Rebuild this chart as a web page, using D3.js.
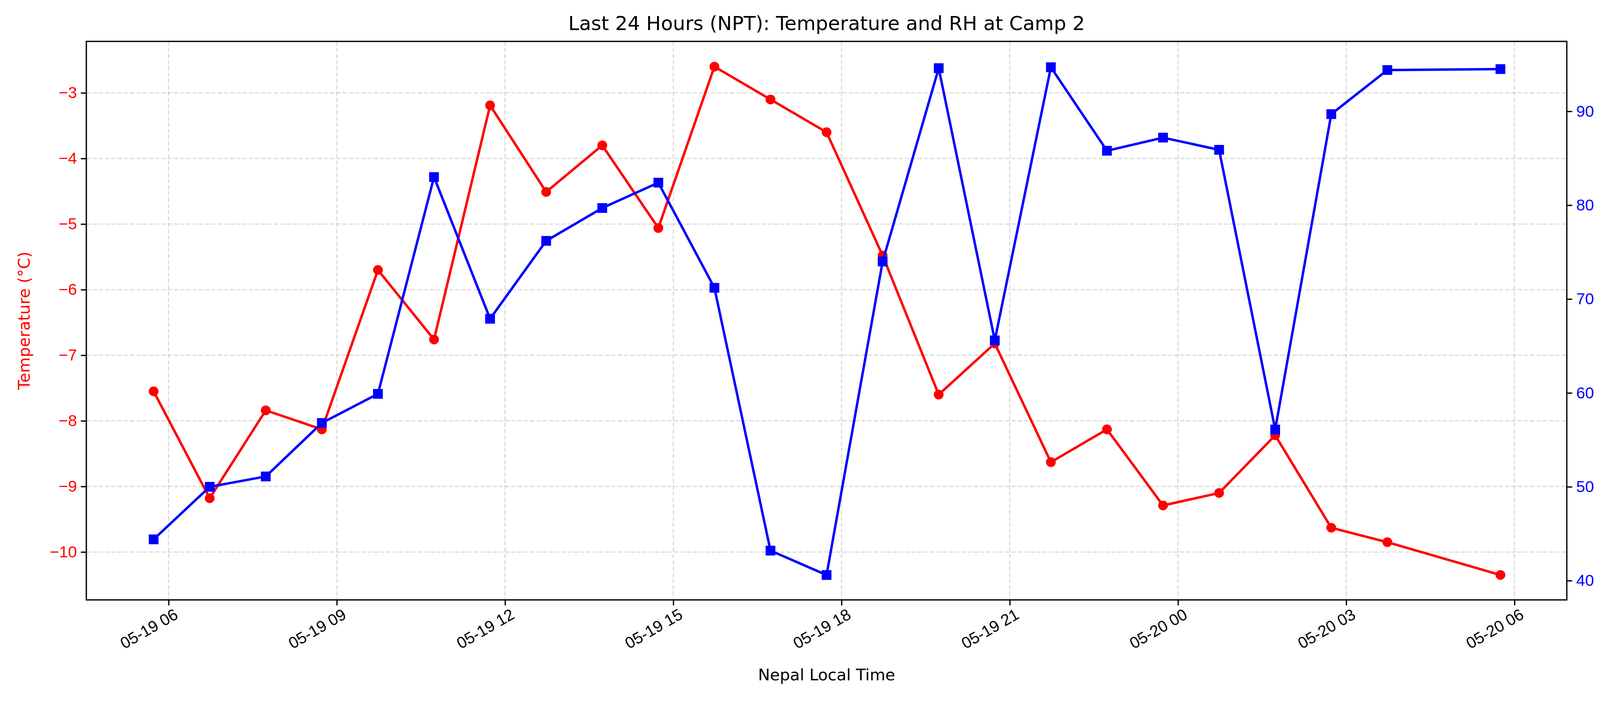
<!DOCTYPE html>
<html><head><meta charset="utf-8">
<script src="https://cdn.jsdelivr.net/npm/d3@7"></script>
<style>html,body{margin:0;padding:0;background:#fff;overflow:hidden}svg{display:block;font-family:"DejaVu Sans",sans-serif}</style>
</head><body>
<script>
const times = ["2024-05-19T05:44","2024-05-19T06:44","2024-05-19T07:44","2024-05-19T08:44","2024-05-19T09:44","2024-05-19T10:44","2024-05-19T11:44","2024-05-19T12:44","2024-05-19T13:44","2024-05-19T14:44","2024-05-19T15:44","2024-05-19T16:44","2024-05-19T17:44","2024-05-19T18:44","2024-05-19T19:44","2024-05-19T20:44","2024-05-19T21:44","2024-05-19T22:44","2024-05-19T23:44","2024-05-20T00:44","2024-05-20T01:44","2024-05-20T02:44","2024-05-20T03:44","2024-05-20T05:45"];
const temperature = [-7.55,-9.18,-7.84,-8.13,-5.70,-6.76,-3.19,-4.51,-3.80,-5.06,-2.60,-3.10,-3.60,-5.48,-7.60,-6.82,-8.63,-8.13,-9.29,-9.10,-8.22,-9.63,-9.85,-10.35];
const humidity = [44.4,50.0,51.1,56.8,59.9,83.0,67.9,76.2,79.7,82.4,71.2,43.2,40.6,74.0,94.6,65.6,94.7,85.8,87.2,85.9,56.1,89.7,94.4,94.5];
const tempTicks = [-10,-9,-8,-7,-6,-5,-4,-3];
const rhTicks = [40,50,60,70,80,90];
const xTicks = ["2024-05-19T06:00","2024-05-19T09:00","2024-05-19T12:00","2024-05-19T15:00","2024-05-19T18:00","2024-05-19T21:00","2024-05-20T00:00","2024-05-20T03:00","2024-05-20T06:00"];

const W=4200,H=1800,L=221,R=4011,T=106,B=1536;
const parse=d3.timeParse("%Y-%m-%dT%H:%M");
const td=times.map(parse);
const svg=d3.select("body").append("svg").attr("width",W).attr("height",H);
const x=d3.scaleTime().domain([parse("2024-05-19T04:32"),parse("2024-05-20T06:56")]).range([L,R]);
const yT=d3.scaleLinear().domain([-10.73,-2.215]).range([B,T]);
const yH=d3.scaleLinear().domain([37.95,97.45]).range([B,T]);
const fmt=d3.timeFormat("%m-%d %H");
const minus=v=>String(v).replace("-","\u2212");

const g=svg.append("g").attr("stroke","#b0b0b0").attr("stroke-opacity",0.45).attr("stroke-width",3).attr("stroke-dasharray","11,5");
xTicks.map(parse).forEach(t=>g.append("line").attr("x1",x(t)).attr("x2",x(t)).attr("y1",T).attr("y2",B));
tempTicks.forEach(v=>g.append("line").attr("x1",L).attr("x2",R).attr("y1",yT(v)).attr("y2",yT(v)));

const ax=svg.append("g").attr("transform",`translate(0,${B})`).call(d3.axisBottom(x).tickValues(xTicks.map(parse)).tickFormat(fmt).tickSize(14).tickPadding(10));
ax.selectAll("text").attr("font-size",41).attr("text-anchor","end").attr("dy","0.7em").attr("transform","rotate(-30)").attr("fill","#000");
const ayl=svg.append("g").attr("transform",`translate(${L},0)`).call(d3.axisLeft(yT).tickValues(tempTicks).tickFormat(minus).tickSize(14).tickPadding(10));
ayl.selectAll("text").attr("font-size",41).attr("fill","red");
const ayr=svg.append("g").attr("transform",`translate(${R},0)`).call(d3.axisRight(yH).tickValues(rhTicks).tickSize(14).tickPadding(10));
ayr.selectAll("text").attr("font-size",41).attr("fill","blue");
[ax,ayl,ayr].forEach(a=>{a.select(".domain").remove();a.selectAll("line").attr("stroke","#000").attr("stroke-width",3.3);});
svg.append("rect").attr("x",L).attr("y",T).attr("width",R-L).attr("height",B-T).attr("fill","none").attr("stroke","#000").attr("stroke-width",3.3);

svg.append("path").datum(temperature).attr("fill","none").attr("stroke","red").attr("stroke-width",6.25)
  .attr("d",d3.line().x((d,i)=>x(td[i])).y(d=>yT(d)));
svg.append("g").selectAll("circle").data(temperature).join("circle").attr("cx",(d,i)=>x(td[i])).attr("cy",d=>yT(d)).attr("r",12.5).attr("fill","red");
svg.append("path").datum(humidity).attr("fill","none").attr("stroke","blue").attr("stroke-width",6.25)
  .attr("d",d3.line().x((d,i)=>x(td[i])).y(d=>yH(d)));
svg.append("g").selectAll("rect").data(humidity).join("rect").attr("x",(d,i)=>x(td[i])-12.5).attr("y",d=>yH(d)-12.5).attr("width",25).attr("height",25).attr("fill","blue");

svg.append("text").attr("x",(L+R)/2).attr("y",77).attr("text-anchor","middle").attr("font-size",50).text("Last 24 Hours (NPT): Temperature and RH at Camp 2");
svg.append("text").attr("x",(L+R)/2).attr("y",1742).attr("text-anchor","middle").attr("font-size",41).text("Nepal Local Time");
svg.append("text").attr("transform",`translate(76,${(T+B)/2}) rotate(-90)`).attr("text-anchor","middle").attr("font-size",41).attr("fill","red").text("Temperature (°C)");
svg.append("text").attr("transform",`translate(4143,${(T+B)/2}) rotate(-90)`).attr("text-anchor","middle").attr("font-size",41).attr("fill","blue").text("Relative Humidity (%)");
</script></body></html>
